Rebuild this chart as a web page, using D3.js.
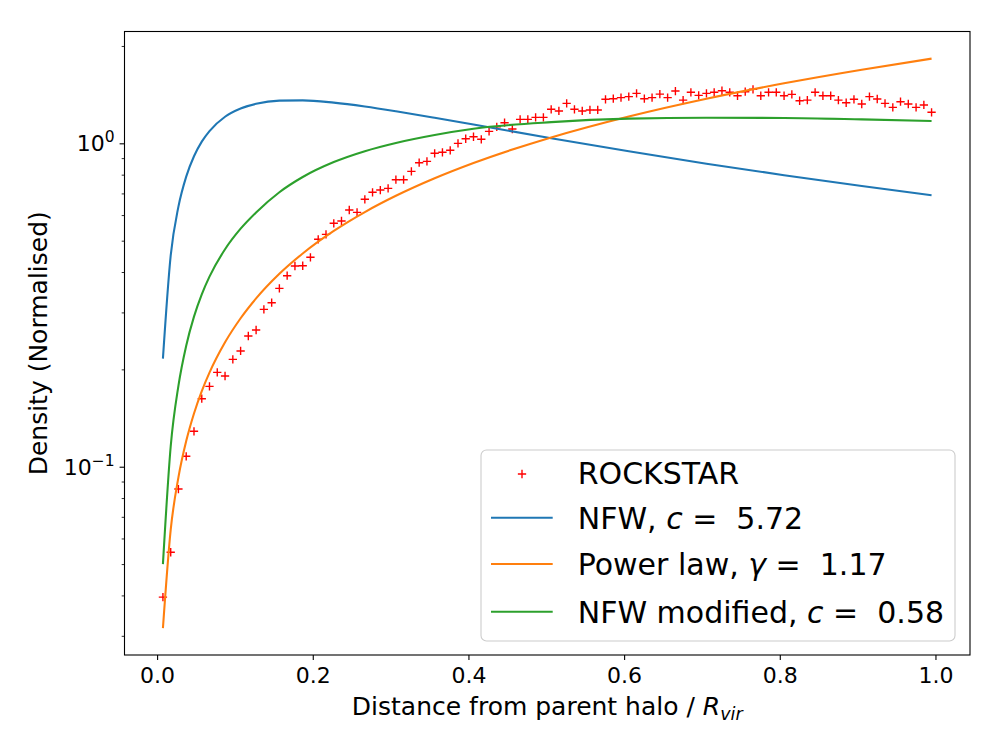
<!DOCTYPE html>
<html>
<head>
<meta charset="utf-8">
<script src="https://cdn.jsdelivr.net/npm/d3@7"></script>
<style>
body { margin: 0; background: #fff; }
text { font-family: "DejaVu Sans", sans-serif; fill: #000; }
</style>
</head>
<body>
<div id="graphHolder"></div>
<script>
var graphWidth = 1000;
var graphHeight = 750;

var binCentres = [
    0.0075, 0.0175, 0.0274, 0.0374, 0.0474, 0.0574, 0.0673, 0.0773, 0.0873, 0.0973,
    0.1073, 0.1172, 0.1272, 0.1372, 0.1472, 0.1571, 0.1671, 0.1771, 0.1871, 0.1970,
    0.2070, 0.2170, 0.2270, 0.2369, 0.2469, 0.2569, 0.2669, 0.2768, 0.2868, 0.2968,
    0.3068, 0.3167, 0.3267, 0.3367, 0.3467, 0.3566, 0.3666, 0.3766, 0.3866, 0.3965,
    0.4065, 0.4165, 0.4265, 0.4364, 0.4464, 0.4564, 0.4664, 0.4763, 0.4863, 0.4963,
    0.5063, 0.5162, 0.5262, 0.5362, 0.5462, 0.5561, 0.5661, 0.5761, 0.5861, 0.5960,
    0.6060, 0.6160, 0.6260, 0.6359, 0.6459, 0.6559, 0.6659, 0.6758, 0.6858, 0.6958,
    0.7058, 0.7157, 0.7257, 0.7357, 0.7457, 0.7556, 0.7656, 0.7756, 0.7856, 0.7955,
    0.8055, 0.8155, 0.8255, 0.8354, 0.8454, 0.8554, 0.8654, 0.8753, 0.8853, 0.8953,
    0.9053, 0.9152, 0.9252, 0.9352, 0.9452, 0.9551, 0.9651, 0.9751, 0.9851, 0.9950
];

var rockstarDensity = [
    0.0395, 0.0544, 0.0853, 0.1077, 0.1287, 0.1623, 0.1772, 0.1958, 0.1908, 0.2148,
    0.2280, 0.2536, 0.2647, 0.3066, 0.3215, 0.3561, 0.3896, 0.4175, 0.4183, 0.4442,
    0.5049, 0.5231, 0.5658, 0.5752, 0.6220, 0.6117, 0.6712, 0.7055, 0.7170, 0.7256,
    0.7718, 0.7718, 0.8192, 0.8710, 0.8796, 0.9313, 0.9380, 0.9514, 1.0000, 1.0330,
    1.0480, 1.0290, 1.0890, 1.1250, 1.1580, 1.1070, 1.1860, 1.1860, 1.2030, 1.2030,
    1.2740, 1.2590, 1.3290, 1.2740, 1.2590, 1.2680, 1.2680, 1.3680, 1.3740, 1.3840,
    1.3940, 1.4270, 1.3740, 1.3840, 1.4200, 1.3840, 1.4510, 1.3600, 1.4380, 1.4070,
    1.4270, 1.4380, 1.4540, 1.4380, 1.4030, 1.4440, 1.4690, 1.4030, 1.4380, 1.4380,
    1.4030, 1.4170, 1.3540, 1.3600, 1.4380, 1.4030, 1.4030, 1.3600, 1.3350, 1.3680,
    1.3230, 1.3940, 1.3710, 1.3290, 1.2920, 1.3450, 1.3230, 1.2920, 1.3140, 1.2470
];

var curveX = [0.0075, 0.0175, 0.0274, 0.0374, 0.0474, 0.0574, 0.0673, 0.0873, 0.1073, 0.1272,
    0.1571, 0.1871, 0.2270, 0.2669, 0.3068, 0.3566, 0.4065, 0.5063, 0.6060, 0.7058,
    0.8055, 0.9053, 0.9950];
var nfwFit = [0.216, 0.450, 0.637, 0.789, 0.912, 1.012, 1.091, 1.208, 1.281, 1.325,
    1.355, 1.358, 1.336, 1.300, 1.257, 1.200, 1.143, 1.037, 0.945, 0.865,
    0.797, 0.738, 0.691];
var powerFit = [0.0317, 0.0639, 0.0927, 0.1200, 0.1461, 0.1713, 0.1954, 0.2425, 0.2878, 0.3314,
    0.3949, 0.4565, 0.5360, 0.6131, 0.6882, 0.7797, 0.8692, 1.0430, 1.2109, 1.3742,
    1.5335, 1.6895, 1.8274];
var nfwModFit = [0.050, 0.1157, 0.1779, 0.2367, 0.2911, 0.3412, 0.3870, 0.4704, 0.5445, 0.6114,
    0.7060, 0.7869, 0.8752, 0.9458, 1.0028, 1.0617, 1.1098, 1.163, 1.192, 1.200,
    1.198, 1.186, 1.172];

var xTicks = [0, 0.2, 0.4, 0.6, 0.8, 1.0];
var yMajorTicks = [0.1, 1];
var yTickExponents = ["\u22121", "0"];
var yMinorTicks = [0.03, 0.04, 0.05, 0.06, 0.07, 0.08, 0.09,
    0.2, 0.3, 0.4, 0.5, 0.6, 0.7, 0.8, 0.9, 2];

var fitSeries = [
    {values: nfwFit, color: "#1f77b4"},
    {values: powerFit, color: "#ff7f0e"},
    {values: nfwModFit, color: "#2ca02c"}
];

var legendItems = [
    {kind: "marker", color: "red", parts: [["ROCKSTAR", false]]},
    {kind: "line", color: "#1f77b4", parts: [["NFW, ", false], ["c", true], [" =  5.72", false]]},
    {kind: "line", color: "#ff7f0e", parts: [["Power law, ", false], ["\u03b3", true], [" =  1.17", false]]},
    {kind: "line", color: "#2ca02c", parts: [["NFW modified, ", false], ["c", true], [" =  0.58", false]]}
];

function drawDensityChart() {

    var left = 124.5, right = 970, top = 31.5, bottom = 655;

    var svg = d3.select("#graphHolder")
            .append("svg").attr("id", "graph")
            .attr("width", graphWidth)
            .attr("height", graphHeight);

    var x = d3.scaleLinear()
            .domain([-0.041875, 1.044375])
            .range([left, right]);

    var y = d3.scaleLog()
            .domain([0.02617, 2.217])
            .range([bottom, top]);

    var plus = "M-4.15,0H4.15M0,-4.15V4.15";

    svg.append("g")
            .selectAll("path")
            .data(rockstarDensity)
            .enter().append("path")
            .attr("transform", function (d, i) {
                return "translate(" + x(binCentres[i]) + "," + y(d) + ")";
            })
            .attr("d", plus)
            .attr("fill", "none")
            .attr("stroke", "red")
            .attr("stroke-width", 1.39);

    var line = d3.line()
            .x(function (d, i) {
                return x(curveX[i]);
            })
            .y(function (d) {
                return y(d);
            })
            .curve(d3.curveMonotoneX);

    fitSeries.forEach(function (s) {
        svg.append("path")
                .datum(s.values)
                .attr("fill", "none")
                .attr("stroke", s.color)
                .attr("stroke-width", 2.08)
                .attr("stroke-linejoin", "round")
                .attr("d", line);
    });

    svg.append("rect")
            .attr("x", left).attr("y", top)
            .attr("width", right - left).attr("height", bottom - top)
            .attr("fill", "none")
            .attr("stroke", "#000")
            .attr("stroke-width", 1.1);

    var xAxis = svg.append("g")
            .attr("transform", "translate(0," + bottom + ")")
            .call(d3.axisBottom(x).tickValues(xTicks).tickSize(4.9)
                    .tickFormat(d3.format(".1f")));
    xAxis.select(".domain").remove();
    xAxis.selectAll("line").attr("stroke-width", 1.1);
    xAxis.selectAll("text")
            .attr("y", 28).attr("dy", 0)
            .attr("fill", "#000")
            .style("font-size", "22px")
            .style("font-family", "DejaVu Sans");

    var yMinor = svg.append("g")
            .attr("transform", "translate(" + left + ",0)")
            .call(d3.axisLeft(y).tickValues(yMinorTicks).tickSize(2.8).tickFormat(""));
    yMinor.select(".domain").remove();
    yMinor.selectAll("line").attr("stroke-width", 0.83);

    var yMajor = svg.append("g")
            .attr("transform", "translate(" + left + ",0)")
            .call(d3.axisLeft(y).tickValues(yMajorTicks).tickSize(4.9).tickFormat(""));
    yMajor.select(".domain").remove();
    yMajor.selectAll("line").attr("stroke-width", 1.1);

    yMajorTicks.forEach(function (t, i) {
        var label = svg.append("text")
                .attr("x", left - 9.8)
                .attr("y", y(t) + 8)
                .attr("text-anchor", "end")
                .style("font-size", "22px");
        label.append("tspan").text("10");
        label.append("tspan")
                .attr("dy", -9)
                .style("font-size", "15.5px")
                .text(yTickExponents[i]);
    });

    svg.append("text")
            .attr("transform", "translate(46.7," + ((top + bottom) / 2) + ") rotate(-90)")
            .attr("text-anchor", "middle")
            .style("font-size", "25px")
            .text("Density (Normalised)");

    var xLabel = svg.append("text")
            .attr("x", (left + right) / 2)
            .attr("y", 715)
            .attr("text-anchor", "middle")
            .style("font-size", "25px");
    xLabel.append("tspan").text("Distance from parent halo / ");
    xLabel.append("tspan").style("font-style", "italic").text("R");
    xLabel.append("tspan").attr("dy", 4.5)
            .style("font-style", "italic")
            .style("font-size", "17.5px")
            .text("vir");

    var legend = svg.append("g");
    legend.append("rect")
            .attr("x", 481).attr("y", 450)
            .attr("width", 474).attr("height", 191)
            .attr("rx", 5.5).attr("ry", 5.5)
            .attr("fill", "#fff").attr("fill-opacity", 0.8)
            .attr("stroke", "#cccccc")
            .attr("stroke-width", 1.1);

    var baselines = [484.3, 529.3, 575, 622.7];
    var handleY = [474, 517.7, 564, 611.7];

    legendItems.forEach(function (item, i) {
        if (item.kind === "marker") {
            legend.append("path")
                    .attr("transform", "translate(522," + handleY[i] + ")")
                    .attr("d", plus)
                    .attr("fill", "none")
                    .attr("stroke", item.color)
                    .attr("stroke-width", 1.39);
        } else {
            legend.append("line")
                    .attr("x1", 491).attr("x2", 552.7)
                    .attr("y1", handleY[i]).attr("y2", handleY[i])
                    .attr("stroke", item.color)
                    .attr("stroke-width", 2.08);
        }
        var t = legend.append("text")
                .attr("x", 577.7)
                .attr("y", baselines[i])
                .attr("xml:space", "preserve")
                .style("white-space", "pre")
                .style("font-size", "30px");
        item.parts.forEach(function (p) {
            t.append("tspan")
                    .style("font-style", p[1] ? "italic" : "normal")
                    .text(p[0]);
        });
    });
}

drawDensityChart();
</script>
</body>
</html>
